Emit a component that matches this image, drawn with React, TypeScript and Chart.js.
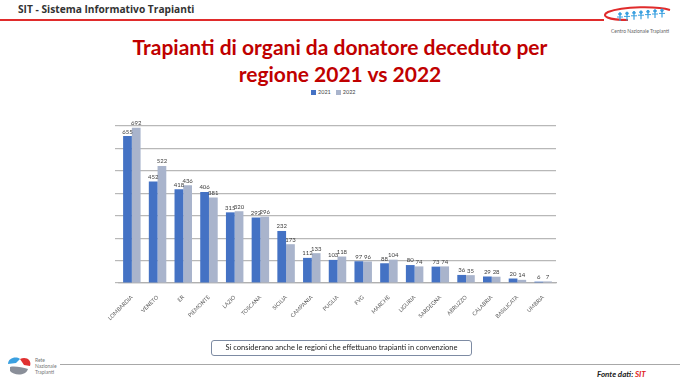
import React, { useEffect, useRef } from "react";
import { Chart, registerables } from "chart.js";

Chart.register(...registerables);

const categories = [
  "LOMBARDIA", "VENETO", "ER", "PIEMONTE", "LAZIO", "TOSCANA", "SICILIA", "CAMPANIA",
  "PUGLIA", "FVG", "MARCHE", "LIGURIA", "SARDEGNA", "ABRUZZO", "CALABRIA", "BASILICATA", "UMBRIA",
];
const values2021 = [655, 452, 418, 406, 315, 292, 232, 112, 103, 97, 88, 80, 73, 36, 29, 20, 6];
const values2022 = [692, 522, 436, 381, 320, 296, 173, 133, 118, 96, 104, 74, 74, 35, 28, 14, 7];
const seriesLabels = ["2021", "2022"];
const yMax = 700;
const yStep = 100;

const BLUE = "#4472c4";
const GRAY = "#a9b4cc";

const labelPlugin = {
  id: "barLabels",
  afterDatasetsDraw(chart: any) {
    const ctx = chart.ctx;
    ctx.save();
    ctx.font = "6px Lato";
    ctx.fillStyle = "#404040";
    ctx.textAlign = "center";
    ctx.textBaseline = "bottom";
    chart.data.datasets.forEach((ds: any, di: number) => {
      const meta = chart.getDatasetMeta(di);
      meta.data.forEach((el: any, i: number) => {
        ctx.fillText(String(ds.data[i]), el.x, el.y - 1.5);
      });
    });
    ctx.restore();
  },
};

function ChartBox() {
  const ref = useRef<HTMLCanvasElement>(null);
  useEffect(() => {
    if (!ref.current) return;
    const chart = new Chart(ref.current, {
      type: "bar",
      data: {
        labels: categories,
        datasets: [
          { label: seriesLabels[0], data: values2021, backgroundColor: BLUE, categoryPercentage: 0.68, barPercentage: 1 },
          { label: seriesLabels[1], data: values2022, backgroundColor: GRAY, categoryPercentage: 0.68, barPercentage: 1 },
        ],
      },
      options: {
        responsive: false,
        animation: false,
        layout: { padding: { left: 0, right: 24, top: 26, bottom: 0 } },
        plugins: { legend: { display: false }, tooltip: { enabled: false } },
        scales: {
          y: {
            min: 0,
            max: yMax,
            ticks: { display: false, stepSize: yStep },
            grid: { color: "#b8b8b8", lineWidth: 1.2, tickLength: 4, drawTicks: true },
            border: { display: false },
            afterFit: (s: any) => { s.width = 39; },
          },
          x: {
            grid: { display: false },
            border: { display: true, color: "#b0b0b0", width: 1.2 },
            ticks: {
              font: { size: 5.5, family: "Lato" },
              color: "#595959",
              minRotation: 45,
              maxRotation: 45,
              autoSkip: false,
              padding: 3,
            },
            afterFit: (s: any) => { s.height = 67; },
          },
        },
      },
      plugins: [labelPlugin],
    });
    return () => chart.destroy();
  }, []);
  return (
    <canvas
      ref={ref}
      width={500}
      height={250}
      style={{ position: "absolute", left: 80, top: 100, width: 500, height: 250 }}
    />
  );
}

export default function App() {
  return (
    <div
      style={{
        position: "fixed",
        left: 0,
        top: 0,
        width: 680,
        height: 383,
        background: "#fff",
        overflow: "hidden",
        fontFamily: "Lato, sans-serif",
      }}
    >
      <div style={{ position: "absolute", left: 18, top: 2, fontFamily: "'Open Sans'", fontWeight: 700, fontSize: 10.2, color: "#333" }}>
        SIT - Sistema Informativo Trapianti
      </div>
      <div style={{ position: "absolute", left: 0, top: 19, width: 604, height: 1.5, background: "#e02b2b" }} />
      <svg style={{ position: "absolute", left: 598, top: 4 }} width={80} height={34}>
        <path d="M 30 16 C 10 16, 2 12, 10 8 C 25 2, 60 2, 72 6" stroke="#e02b2b" strokeWidth={2} fill="none" />
        {[0, 1, 2, 3, 4, 5, 6].map((i) => (
          <g key={i} fill="#3aa0e0" stroke="#3aa0e0">
            <circle cx={22 + i * 7} cy={10 - i * 0.6} r={1.3} />
            <line x1={22 + i * 7} y1={11.5 - i * 0.6} x2={22 + i * 7} y2={17 - i * 0.6} strokeWidth={1.2} />
            <line x1={19 + i * 7} y1={13 - i * 0.6} x2={25 + i * 7} y2={13 - i * 0.6} strokeWidth={1} />
          </g>
        ))}
        <text x={42} y={29} fontSize={5} fill="#666" textAnchor="middle" fontFamily="Lato">Centro Nazionale Trapianti</text>
      </svg>

      <div style={{ position: "absolute", left: 0, width: 680, top: 33, textAlign: "center", color: "#c00000", fontWeight: 700, fontSize: 21, lineHeight: "27px" }}>
        Trapianti di organi da donatore deceduto per
        <br />
        regione 2021 vs 2022
      </div>

      <div style={{ position: "absolute", left: 311, top: 89, display: "flex", alignItems: "center", fontSize: 5.5, color: "#444" }}>
        <span style={{ width: 5, height: 5, background: BLUE, display: "inline-block", marginRight: 2 }} />
        <span style={{ marginRight: 5 }}>{seriesLabels[0]}</span>
        <span style={{ width: 5, height: 5, background: GRAY, display: "inline-block", marginRight: 2 }} />
        <span>{seriesLabels[1]}</span>
      </div>

      <ChartBox />

      <div
        style={{
          position: "absolute",
          left: 211,
          top: 340,
          width: 259,
          height: 14,
          border: "1.3px solid #7d8ba3",
          borderRadius: 3,
          fontSize: 7.5,
          color: "#222",
          textAlign: "center",
          lineHeight: "14px",
        }}
      >
        Si considerano anche le regioni che effettuano trapianti in convenzione
      </div>

      <svg style={{ position: "absolute", left: 4, top: 354 }} width={30} height={26}>
        <path d="M 4 10 C 4 4, 12 2, 16 5 L 12 9 Z" fill="#3aa0e0" />
        <path d="M 16 5 C 22 2, 28 6, 26 12 L 20 11 Z" fill="#e03030" />
        <path d="M 6 13 C 10 12, 18 13, 24 15 C 22 22, 10 22, 6 17 Z" fill="#8a8f99" />
      </svg>
      <div style={{ position: "absolute", left: 35, top: 357, fontSize: 5, lineHeight: "6px", color: "#777" }}>
        Rete<br />Nazionale<br />Trapianti
      </div>
      <div style={{ position: "absolute", left: 60, top: 364, width: 620, height: 1, background: "#a8a8a8" }} />
      <div style={{ position: "absolute", left: 597, top: 369, fontSize: 8, fontStyle: "italic", fontWeight: 700, color: "#222" }}>
        Fonte dati: <span style={{ color: "#e02020" }}>SIT</span>
      </div>
    </div>
  );
}
